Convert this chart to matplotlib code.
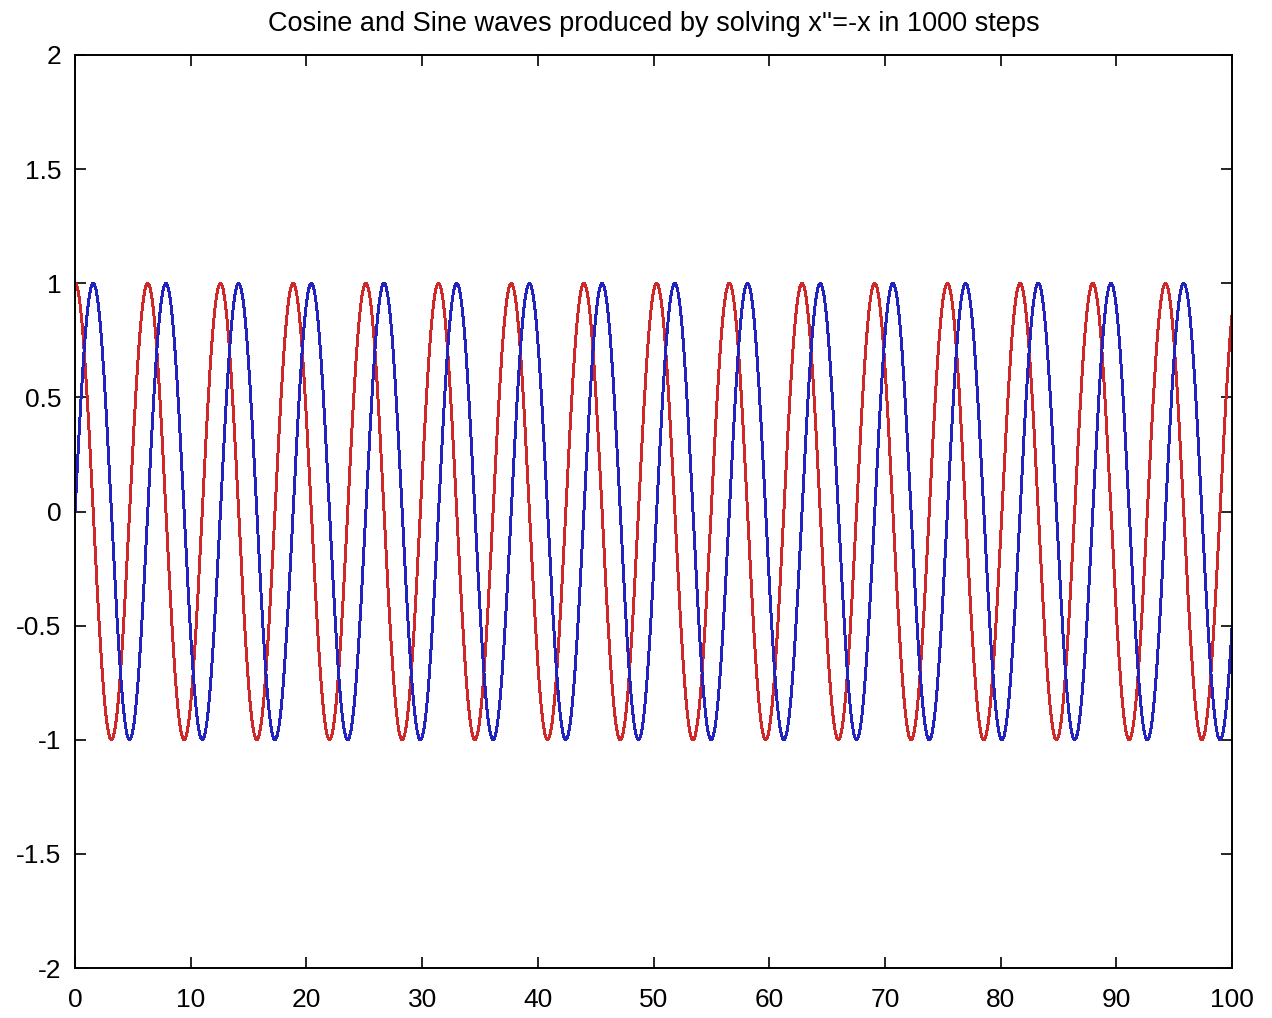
import numpy as np
import matplotlib
matplotlib.use("Agg")
import matplotlib.pyplot as plt

# problem set-up: x'' = -x, solved in 1000 steps from t=0 to t=100
n_steps = 1000
t_end = 100.0
x0 = 1.0      # cosine: x(0)=1, x'(0)=0
v0 = 0.0

x_ticks = [0, 10, 20, 30, 40, 50, 60, 70, 80, 90, 100]
y_ticks = [-2, -1.5, -1, -0.5, 0, 0.5, 1, 1.5, 2]
y_ticklabels = ["-2", "-1.5", "-1", "-0.5", "0", "0.5", "1", "1.5", "2"]
title = "Cosine and Sine waves produced by solving x''=-x in 1000 steps"


def solve(n, t1, x, v):
    # RK4 on the system (x, v)' = (v, -x)
    h = t1 / n
    xs = [x]
    vs = [v]
    for _ in range(n):
        k1x, k1v = v, -x
        k2x, k2v = v + h / 2 * k1v, -(x + h / 2 * k1x)
        k3x, k3v = v + h / 2 * k2v, -(x + h / 2 * k2x)
        k4x, k4v = v + h * k3v, -(x + h * k3x)
        x = x + h / 6 * (k1x + 2 * k2x + 2 * k3x + k4x)
        v = v + h / 6 * (k1v + 2 * k2v + 2 * k3v + k4v)
        xs.append(x)
        vs.append(v)
    return np.linspace(0, t1, n + 1), np.array(xs), -np.array(vs)


t, cosine, sine = solve(n_steps, t_end, x0, v0)

plt.rcParams["font.family"] = ["Liberation Sans", "DejaVu Sans"]

fig = plt.figure(figsize=(12.72, 10.18), dpi=100)
ax = fig.add_axes([0.059, 0.049, 0.9096, 0.897])

ax.plot(t, cosine, color="#d02828", linewidth=1.4, antialiased=False)
ax.plot(t, sine, color="#2222c0", linewidth=1.4, antialiased=False)

ax.set_xlim(0, 100)
ax.set_ylim(-2, 2)
ax.set_xticks(x_ticks)
ax.set_xticklabels([str(v) for v in x_ticks])
ax.set_yticks(y_ticks)
ax.set_yticklabels(y_ticklabels)
ax.tick_params(direction="in", length=8, width=1.2, top=True, right=True,
               labelsize=19)
ax.tick_params(axis="x", pad=14)
ax.tick_params(axis="y", pad=10)
for s in ax.spines.values():
    s.set_linewidth(1.4)

ax.set_title(title, fontsize=19.5, pad=17)

fig.savefig("out.png", dpi=100)
